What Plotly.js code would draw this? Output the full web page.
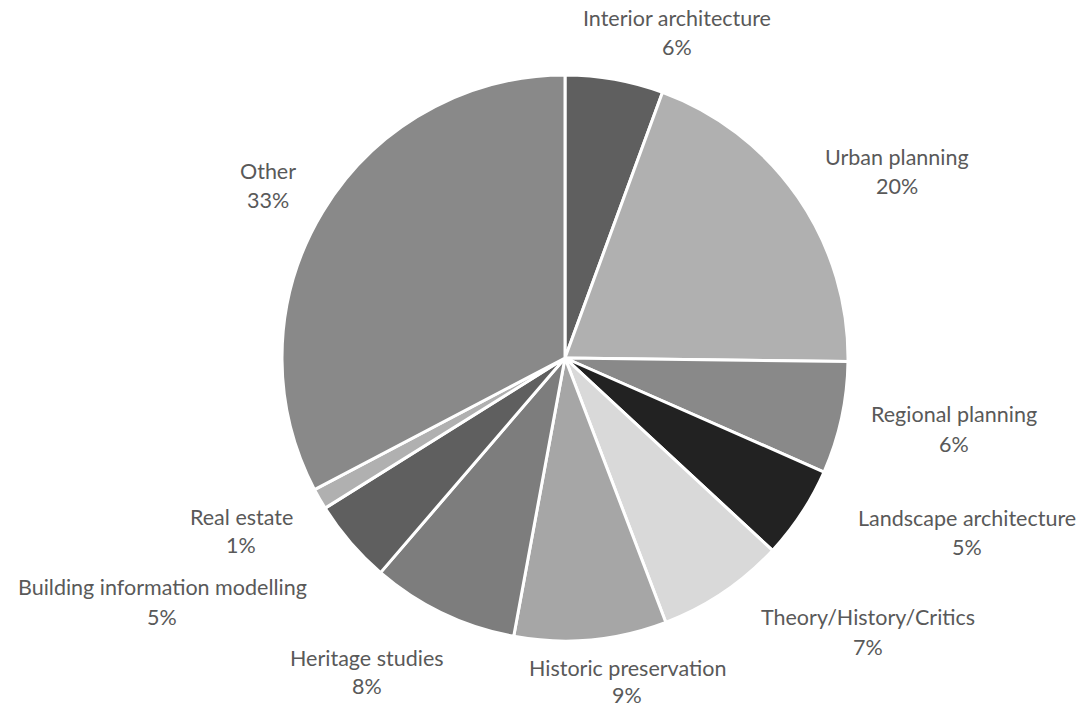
<!DOCTYPE html>
<html>
<head>
<meta charset="utf-8">
<script src="https://cdn.plot.ly/plotly-3.0.1.min.js"></script>
<style>html,body{margin:0;padding:0;background:#fff}#chart{width:1085px;height:710px}</style>
</head>
<body>
<div id="chart"></div>
<script>
// Data (clockwise from 12 o'clock)
var categories = ["Interior architecture", "Urban planning", "Regional planning", "Landscape architecture",
  "Theory/History/Critics", "Historic preservation", "Heritage studies",
  "Building information modelling", "Real estate", "Other"];
var shares = [5.6, 19.6, 6.4, 5.3, 7.3, 8.7, 8.4, 4.8, 1.2, 32.7];

// Styles
var sliceColors = ["#5f5f5f", "#b0b0b0", "#898989", "#222222", "#d9d9d9",
  "#a6a6a6", "#7d7d7d", "#5f5f5f", "#b0b0b0", "#898989"];
// Label positions in pixels (centre x, first-line y, second-line y)
var labelPos = [
  [677, 18, 47], [897, 157, 186], [954, 414, 444], [967, 518, 547], [868, 617, 647],
  [627, 668, 695], [367, 658, 686], [162, 587, 617], [241, 517, 545], [268, 171, 200]
];

var W = 1085, H = 710;
var cx = 565, cy = 358, R = 283;

var total = shares.reduce(function (a, b) { return a + b; }, 0);
var annotations = [];
var fnt = {family: "Lato, sans-serif", size: 21.5, color: "#595959"};
categories.forEach(function (c, i) {
  var p = labelPos[i];
  var pct = Math.round(shares[i] / total * 100) + "%";
  annotations.push({text: c, x: p[0] / W, y: 1 - p[1] / H, xref: "paper", yref: "paper",
    xanchor: "center", yanchor: "middle", showarrow: false, borderpad: 0, font: fnt});
  annotations.push({text: pct, x: p[0] / W, y: 1 - p[2] / H, xref: "paper", yref: "paper",
    xanchor: "center", yanchor: "middle", showarrow: false, borderpad: 0, font: fnt});
});

var trace = {
  type: "pie",
  labels: categories,
  values: shares,
  sort: false,
  direction: "clockwise",
  rotation: 0,
  textinfo: "none",
  hoverinfo: "label+percent",
  marker: {colors: sliceColors, line: {color: "#ffffff", width: 3}},
  domain: {x: [(cx - R) / W, (cx + R) / W], y: [(H - cy - R) / H, (H - cy + R) / H]}
};

Plotly.newPlot("chart", [trace], {
  width: W, height: H,
  margin: {l: 0, r: 0, t: 0, b: 0},
  showlegend: false,
  paper_bgcolor: "#ffffff",
  annotations: annotations
}, {displayModeBar: false, staticPlot: true});
</script>
</body>
</html>
